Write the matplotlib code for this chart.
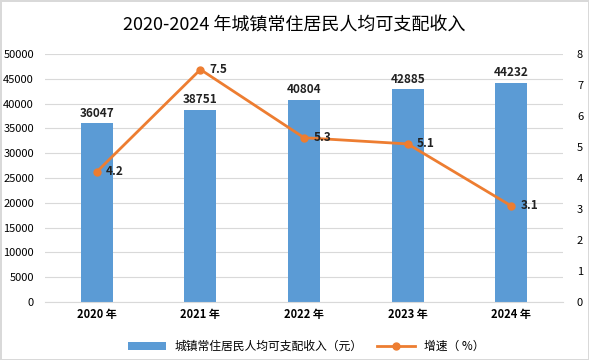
import numpy as np
import matplotlib.pyplot as plt

plt.rcParams['font.family'] = ['Noto Sans CJK SC', 'DejaVu Sans']

years = ['2020 年', '2021 年', '2022 年', '2023 年', '2024 年']
income = [36047, 38751, 40804, 42885, 44232]
growth = [4.2, 7.5, 5.3, 5.1, 3.1]

fig = plt.figure(figsize=(5.89, 3.6), dpi=100)
fig.patch.set_edgecolor('#d9d9d9')
fig.patch.set_linewidth(2)
ax = fig.add_axes([0.0764, 0.161, 0.8796, 0.689])
ax2 = ax.twinx()

x = np.arange(len(years))
bars = ax.bar(x, income, width=0.31, color='#5B9BD5', zorder=2)
for xi, v in zip(x, income):
    ax.text(xi, v + 700, str(v), ha='center', va='bottom', fontsize=8.5,
            fontweight='bold', color='#222222')

ax.set_xlim(-0.5, len(years) - 0.5)
ax.set_ylim(0, 50000)
ax.set_yticks(np.arange(0, 50001, 5000))
ax.grid(axis='y', color='#d9d9d9', linewidth=0.8, zorder=0)
ax.set_xticks(x)
ax.set_xticklabels(years, fontsize=8, fontweight='bold')
ax.tick_params(axis='y', labelsize=8, length=0, pad=8)
ax.tick_params(axis='x', length=0, pad=4)
for s in ['top', 'right', 'left']:
    ax.spines[s].set_visible(False)
ax.spines['bottom'].set_color('#d9d9d9')

line, = ax2.plot(x, growth, color='#ED7D31', linewidth=2, marker='o',
                 markersize=5, zorder=3)
for xi, v in zip(x, growth):
    ax2.text(xi + 0.09, v, str(v), ha='left', va='center', fontsize=8.5,
             fontweight='bold', color='#222222')
ax2.set_ylim(0, 8)
ax2.set_yticks(range(0, 9))
ax2.tick_params(axis='y', labelsize=8, length=0, pad=10)
for s in ['top', 'right', 'left', 'bottom']:
    ax2.spines[s].set_visible(False)

fig.suptitle('2020-2024 年城镇常住居民人均可支配收入', y=0.955, fontsize=13)
fig.legend([bars, line], ['城镇常住居民人均可支配收入（元）', '增速（ %）'],
           loc='lower center', bbox_to_anchor=(0.52, -0.01), ncol=2,
           frameon=False, fontsize=8.5, handlelength=3.2, columnspacing=1.2)

fig.savefig('out.png', dpi=100, edgecolor=fig.get_edgecolor())
